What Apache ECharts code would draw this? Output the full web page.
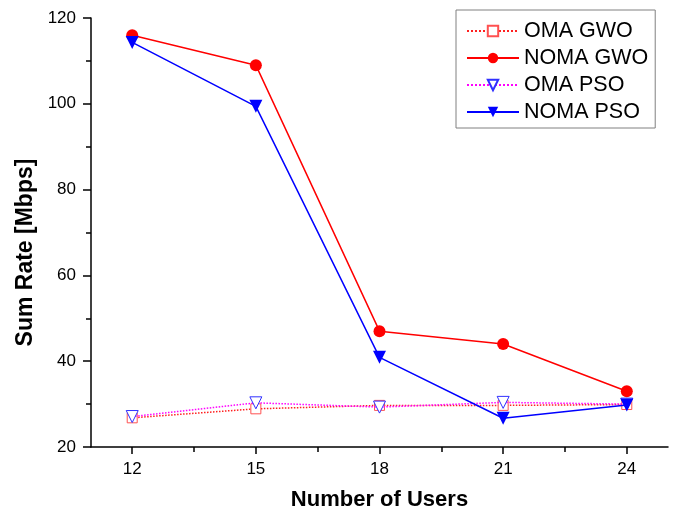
<!DOCTYPE html>
<html><head><meta charset="utf-8">
<script src="https://cdn.jsdelivr.net/npm/echarts@6/dist/echarts.min.js"></script>
<style>html,body{margin:0;padding:0;background:#fff}#c{width:680px;height:514px}</style>
</head><body><div id="c"></div>
<script>
const users = [12, 15, 18, 21, 24];
const omaGwo = [26.8, 28.9, 29.7, 29.7, 29.9];
const nomaGwo = [116, 109, 47, 44, 33];
const omaPso = [27.1, 30.3, 29.3, 30.4, 30];
const nomaPso = [114.3, 99.4, 40.9, 26.7, 29.8];
const minorX = [13.5, 16.5, 19.5, 22.5];

const font = 'Liberation Sans, Arial, sans-serif';
function pts(v){ return users.map((u,i)=>[u, v[i]]); }

const chart = echarts.init(document.getElementById('c'), null, {renderer:'canvas'});
chart.setOption({
  animation:false,
  backgroundColor:'#fff',
  grid:{left:91, top:18, right:12, bottom:67, outerBoundsMode:'none', containLabel:false},
  legend:{
    left:456, top:10,
    orient:'vertical', itemGap:5, itemWidth:52, itemHeight:13,
    padding:[10,7,5,10],
    borderColor:'#808080', borderWidth:1,
    textStyle:{fontFamily:font, fontSize:21.5, color:'#000'},
    data:['OMA GWO','NOMA GWO','OMA PSO','NOMA PSO']
  },
  xAxis:[{
    type:'value', min:11, max:25,
    name:'Number of Users', nameLocation:'middle', nameGap:42,
    nameTextStyle:{fontFamily:font, fontSize:22, fontWeight:'bold', color:'#000'},
    axisLine:{lineStyle:{color:'#000', width:1.5}},
    axisTick:{show:true, inside:false, length:7, customValues:users, lineStyle:{color:'#000', width:1.5}},
    axisLabel:{customValues:users, fontFamily:font, fontSize:17, color:'#000', margin:14},
    splitLine:{show:false}
  },{
    type:'value', min:11, max:25, position:'bottom',
    axisLine:{show:false},
    axisTick:{show:true, length:5, customValues:minorX, lineStyle:{color:'#000', width:1.5}},
    axisLabel:{show:false},
    splitLine:{show:false}
  }],
  yAxis:{
    type:'value', min:20, max:120, interval:20,
    name:'Sum Rate [Mbps]', nameLocation:'middle', nameGap:49,
    nameTextStyle:{fontFamily:font, fontSize:23, fontWeight:'bold', color:'#000', padding:[0,40,0,0]},
    axisLine:{show:true, lineStyle:{color:'#000', width:1.5}},
    axisTick:{show:true, length:8, lineStyle:{color:'#000', width:1.5}},
    minorTick:{show:true, splitNumber:2, length:5, lineStyle:{color:'#000', width:1.5}},
    axisLabel:{fontFamily:font, fontSize:17, color:'#000', margin:15},
    splitLine:{show:false}
  },
  series:[
    {name:'OMA GWO', type:'line', data:pts(omaGwo), symbol:'rect', symbolSize:10,
     lineStyle:{color:'#ff2020', type:'dotted', width:1.5},
     itemStyle:{color:'#fff', borderColor:'#ff5050', borderWidth:1}, z:2},
    {name:'NOMA GWO', type:'line', data:pts(nomaGwo), symbol:'circle', symbolSize:12,
     lineStyle:{color:'#ff0000', width:1.5},
     itemStyle:{color:'#ff0000'}, z:3},
    {name:'OMA PSO', type:'line', data:pts(omaPso), symbol:'triangle', symbolRotate:180, symbolSize:12,
     lineStyle:{color:'#ff00ff', type:'dotted', width:1.5},
     itemStyle:{color:'#fff', borderColor:'#3030ff', borderWidth:1}, z:4},
    {name:'NOMA PSO', type:'line', data:pts(nomaPso), symbol:'triangle', symbolRotate:180, symbolSize:13,
     lineStyle:{color:'#0000ff', width:1.5},
     itemStyle:{color:'#0000ff'}, z:5}
  ]
});
</script></body></html>
